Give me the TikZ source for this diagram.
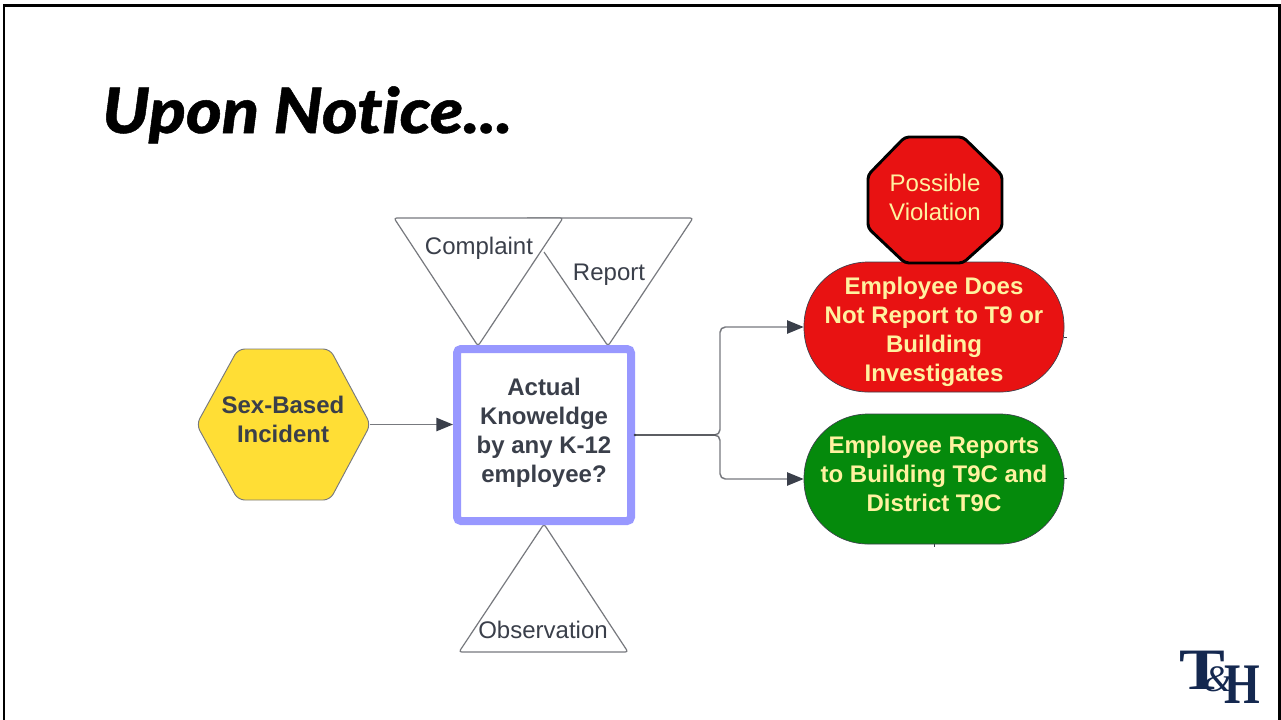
\documentclass[tikz,border=0pt]{standalone}
\usepackage{fontspec}
\setmainfont{Liberation Sans}
\newfontfamily\titlefont{Lato Black Italic}[Ligatures=NoCommon,FakeBold=0.8,FakeStretch=1.09]
\newfontfamily\logofont{Liberation Serif}
\usetikzlibrary{arrows.meta}
\definecolor{inkc}{HTML}{3A3F4A}
\definecolor{linec}{HTML}{77797E}
\definecolor{trunkc}{HTML}{5C5E63}
\definecolor{redc}{HTML}{E81212}
\definecolor{greenc}{HTML}{058A0C}
\definecolor{yelc}{HTML}{FFDE35}
\definecolor{boxc}{HTML}{9898FF}
\definecolor{creamc}{HTML}{FFF2A0}
\definecolor{navyc}{HTML}{14284F}
\tikzset{
  x=0.75pt,y=-0.75pt,
  txtnode/.style={inner sep=0pt,align=center,font=\fontsize{18}{21.7}\selectfont\bfseries},
  thinlabel/.style={inner sep=0pt,align=center,text=inkc,font=\fontsize{18}{21}\selectfont},
  tri/.style={draw=linec,line width=0.9pt,rounded corners=2pt,fill=white},
  conn/.style={draw=linec,line width=1.1pt},
  tipped/.style={-{Triangle[length=12.5pt,width=10pt,color=inkc]}},
  stadium/.style={draw=inkc,line width=0.5pt,rounded corners=48pt,minimum width=195pt,minimum height=97.5pt,inner sep=0pt},
}
\begin{document}
\begin{tikzpicture}
\useasboundingbox (0,0) rectangle (1281,719);
\fill[white] (0,0) rectangle (1281,719);
\draw[black,line width=2.2pt] (4,722) -- (4,5.5) -- (1279.5,5.5) -- (1279.5,722);
% title
\node[anchor=base west,inner sep=0pt] (title) at (102,133) {\titlefont\fontsize{47}{56}\selectfont Upon Notice...};
% triangles
\draw[tri] (527,218) -- (693,218) -- (608,346) -- (544,252);
\draw[tri] (394,218) -- (563,218) -- (478,346) -- cycle;
\draw[tri] (544,524) -- (628,652) -- (459,652) -- cycle;
\node[thinlabel] (complaint) at (479,248) {Complaint};
\node[thinlabel] (report) at (609,275) {Report};
\node[thinlabel] (observation) at (543,630) {Observation};
% hexagon
\draw[fill=yelc,draw=linec,line width=0.7pt,rounded corners=5pt] (196.5,424.5) -- (238,349) -- (330,349) -- (370.5,424.5) -- (330,500) -- (238,500) -- cycle;
\node[minimum width=129pt,minimum height=113pt,inner sep=0pt] (hex) at (283.5,424.5) {};
\node[txtnode,text=inkc] (hextext) at (283,419) {Sex-Based\\Incident};
% box
\node[draw=boxc,line width=6pt,rounded corners=3pt,fill=white,minimum width=130.5pt,minimum height=129pt,inner sep=0pt] (box) at (544,435) {};
\node[txtnode,text=inkc] (boxtext) at (544,433) {Actual\\Knoweldge\\by any K-12\\employee?};
% stadiums
\node[stadium,fill=redc] (redn) at (934,327) {};
\node[txtnode,text=creamc] (redtext) at (934,332) {Employee Does\\Not Report to T9 or\\Building\\Investigates};
\node[stadium,fill=greenc] (greenn) at (934,479) {};
\node[txtnode,text=creamc] (greentext) at (934,474) {Employee Reports\\to Building T9C and\\District T9C};
% small marks on the shapes
\draw[inkc,line width=0.5pt] (1064,337) -- (1067,337) (1064,478) -- (1067,478) (934,544) -- (934,547);
% octagon
\draw[fill=redc,draw=black,line width=2.2pt,rounded corners=3pt] (905,137) -- (963,137) -- (1002,175) -- (1002,228) -- (963,263) -- (905,263) -- (868,228) -- (868,175) -- cycle;
\node[inner sep=0pt,align=center,text=creamc,font=\fontsize{18}{21.7}\selectfont] (octo) at (935,197) {Possible\\Violation};
% connectors
\coordinate (fork) at (720,435);
\draw[conn,tipped] (hex.east) -- (hex.east -| box.west);
\draw[conn,tipped,rounded corners=4pt] (box.east) -| (fork |- redn.west) -- (redn.west);
\draw[conn,tipped,rounded corners=4pt] (box.east) -| (fork |- greenn.west) -- (greenn.west);
\draw[trunkc,line width=1.2pt] (box.east) -- (716,435);
\fill[inkc] (box.east) circle[radius=1pt];
% logo
\node[anchor=base west,inner sep=0pt,text=navyc] (logot) at (1179,689) {\scalebox{1.17}[1]{\logofont\bfseries\fontsize{44}{44}\selectfont T}};
\node[anchor=base west,inner sep=0pt,text=navyc] (logoh) at (1224,703) {\scalebox{0.8}[1]{\logofont\bfseries\fontsize{43}{43}\selectfont H}};
\node[anchor=base west,inner sep=0pt,text=navyc] (logoa) at (1203,691) {\logofont\itshape\fontsize{28}{28}\selectfont \&};
\end{tikzpicture}
\end{document}
